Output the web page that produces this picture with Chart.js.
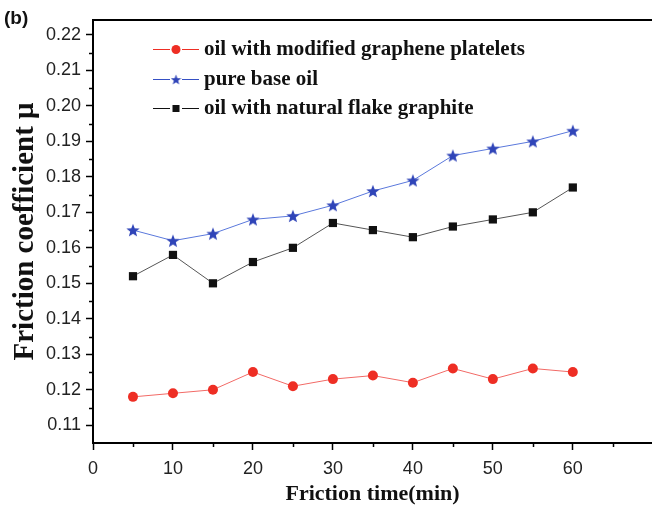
<!DOCTYPE html>
<html lang="en">
<head>
  <meta charset="UTF-8">
  <title>Friction coefficient vs time</title>
  <script src="https://cdn.jsdelivr.net/npm/chart.js"></script>
  <style>
    html, body { margin: 0; padding: 0; background: #fff; }
    #wrap { position: relative; width: 652px; height: 506px; }
  </style>
</head>
<body>
  <div id="wrap">
    <canvas id="frictionChart" width="652" height="506"></canvas>
  </div>

  <script>
    // friction time (min)
    const times = [5, 10, 15, 20, 25, 30, 35, 40, 45, 50, 55, 60];
    const graphenePlatelets = [0.118, 0.119, 0.120, 0.125, 0.121, 0.123, 0.124, 0.122, 0.126, 0.123, 0.126, 0.125];
    const pureBaseOil = [0.165, 0.162, 0.164, 0.168, 0.169, 0.172, 0.176, 0.179, 0.186, 0.188, 0.190, 0.193];
    const flakeGraphite = [0.152, 0.158, 0.150, 0.156, 0.160, 0.167, 0.165, 0.163, 0.166, 0.168, 0.170, 0.177];

    const xTicks = [0, 10, 20, 30, 40, 50, 60];
    const yTicks = [0.11, 0.12, 0.13, 0.14, 0.15, 0.16, 0.17, 0.18, 0.19, 0.20, 0.21, 0.22];

    const seriesLabels = [
      'oil with modified graphene platelets',
      'pure base oil',
      'oil with natural flake graphite'
    ];
    const legendLineColors = ['#ee2e24', '#3550c4', '#111'];

    // filled five-point star marker (Chart.js 'star' is only an asterisk)
    function makeStar(size, color) {
      const c = document.createElement('canvas');
      c.width = size; c.height = size;
      const g = c.getContext('2d');
      const cx = size / 2, cy = size / 2 + size * 0.05, R = size / 2, r = R * 0.42;
      g.beginPath();
      for (let i = 0; i < 10; i++) {
        const a = -Math.PI / 2 + i * Math.PI / 5;
        const rad = i % 2 === 0 ? R : r;
        g.lineTo(cx + rad * Math.cos(a), cy + rad * Math.sin(a));
      }
      g.closePath();
      g.fillStyle = color;
      g.fill();
      return c;
    }
    const starImg = makeStar(14, '#2f44b8');
    const starSmall = makeStar(11, '#2f44b8');

    const toPoints = (ys) => times.map((t, i) => ({ x: t, y: ys[i] }));

    // minor ticks, top frame line, in-plot legend
    const decorations = {
      id: 'decorations',
      afterDraw(chart) {
        const ctx = chart.ctx;
        const area = chart.chartArea;
        const xs = chart.scales.x, ys = chart.scales.y;
        ctx.save();
        ctx.strokeStyle = '#000';
        ctx.lineWidth = 1.5;
        ctx.beginPath();
        for (let v = 5; v < 70; v += 10) {
          const px = Math.round(xs.getPixelForValue(v)) + 0.5;
          ctx.moveTo(px, area.bottom);
          ctx.lineTo(px, area.bottom + 4);
        }
        for (let v = 0.115; v < 0.225; v += 0.01) {
          const py = Math.round(ys.getPixelForValue(v)) + 0.5;
          ctx.moveTo(area.left, py);
          ctx.lineTo(area.left - 4, py);
        }
        ctx.stroke();

        // top frame
        ctx.lineWidth = 2;
        ctx.beginPath();
        ctx.moveTo(area.left - 1, area.top);
        ctx.lineTo(chart.width, area.top);
        ctx.stroke();

        // legend
        const rows = [49, 79, 108];
        ctx.font = 'bold 21px "Liberation Serif", "Times New Roman", serif';
        ctx.textBaseline = 'middle';
        chart.data.datasets.forEach((ds, i) => {
          const y = rows[i];
          ctx.strokeStyle = legendLineColors[i];
          ctx.lineWidth = 1.2;
          ctx.beginPath();
          ctx.moveTo(153, y + 0.5);
          ctx.lineTo(170, y + 0.5);
          ctx.moveTo(182, y + 0.5);
          ctx.lineTo(199, y + 0.5);
          ctx.stroke();
          if (i === 0) {
            ctx.fillStyle = legendLineColors[0];
            ctx.beginPath();
            ctx.arc(176, y + 0.5, 4.5, 0, Math.PI * 2);
            ctx.fill();
          } else if (i === 2) {
            ctx.fillStyle = legendLineColors[2];
            ctx.fillRect(172.5, y - 3, 7, 7);
          } else {
            ctx.drawImage(starSmall, 176 - 5.5, y - 5);
          }
          ctx.fillStyle = '#111';
          ctx.fillText(ds.label, 204, y + 1);
        });

        // panel label
        ctx.font = 'bold 19px "Liberation Sans", Arial, sans-serif';
        ctx.textBaseline = 'alphabetic';
        ctx.fillText('(b)', 4, 24);
        ctx.restore();
      }
    };

    const ctx = document.getElementById('frictionChart').getContext('2d');

    new Chart(ctx, {
      type: 'line',
      data: {
        datasets: [{
          label: seriesLabels[0],
          data: toPoints(graphenePlatelets),
          borderColor: '#f26a66',
          borderWidth: 1,
          pointStyle: 'circle',
          pointRadius: 5,
          pointBackgroundColor: '#ee2e24',
          pointBorderColor: '#ee2e24',
          pointBorderWidth: 0
        }, {
          label: seriesLabels[1],
          data: toPoints(pureBaseOil),
          borderColor: '#5a78dc',
          borderWidth: 1,
          pointStyle: starImg,
          pointRadius: 7
        }, {
          label: seriesLabels[2],
          data: toPoints(flakeGraphite),
          borderColor: '#555',
          borderWidth: 1,
          pointStyle: 'rect',
          pointRadius: 5.8,
          pointBackgroundColor: '#111',
          pointBorderColor: '#111',
          pointBorderWidth: 0
        }]
      },
      options: {
        responsive: false,
        animation: false,
        devicePixelRatio: 1,
        layout: { autoPadding: false, padding: { top: 20, right: 0, left: 0, bottom: 0 } },
        plugins: {
          legend: { display: false },
          tooltip: { enabled: false }
        },
        scales: {
          x: {
            type: 'linear',
            min: 0,
            max: 69.9,
            afterBuildTicks: (s) => { s.ticks = xTicks.map(v => ({ value: v })); },
            afterFit: (s) => { s.height = 63; s.paddingLeft = 0; s.paddingRight = 0; },
            grid: { display: true, drawOnChartArea: false, drawTicks: true, tickLength: 7, tickWidth: 1.5, tickColor: '#000' },
            border: { display: true, color: '#000', width: 2 },
            ticks: {
              padding: 8,
              color: '#222',
              font: { family: '"Liberation Sans", Arial, sans-serif', size: 18 }
            },
            title: {
              display: true,
              text: 'Friction time(min)',
              color: '#111',
              padding: { top: 0, bottom: -2 },
              font: { family: '"Liberation Serif", "Times New Roman", serif', size: 22, weight: 'bold' }
            }
          },
          y: {
            type: 'linear',
            min: 0.105,
            max: 0.2242,
            afterBuildTicks: (s) => { s.ticks = yTicks.map(v => ({ value: v })); },
            afterFit: (s) => { s.width = 93; s.paddingTop = 0; s.paddingBottom = 0; },
            grid: { display: true, drawOnChartArea: false, drawTicks: true, tickLength: 7, tickWidth: 1.5, tickColor: '#000' },
            border: { display: true, color: '#000', width: 2 },
            ticks: {
              padding: 5,
              color: '#222',
              font: { family: '"Liberation Sans", Arial, sans-serif', size: 18 },
              callback: (v) => v.toFixed(2)
            },
            title: {
              display: true,
              text: 'Friction coefficient μ',
              color: '#111',
              padding: { top: 8, bottom: 0 },
              font: { family: '"Liberation Serif", "Times New Roman", serif', size: 29, weight: 'bold' }
            }
          }
        }
      },
      plugins: [decorations]
    });
  </script>
</body>
</html>
